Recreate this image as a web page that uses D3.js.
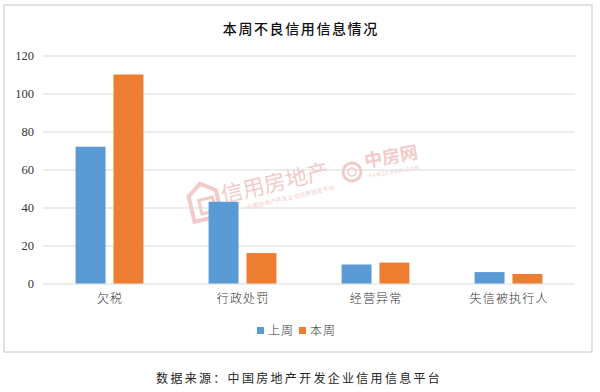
<!DOCTYPE html>
<html><head><meta charset="utf-8">
<script src="https://cdn.jsdelivr.net/npm/d3@7/dist/d3.min.js"></script>
<style>
html,body{margin:0;padding:0;background:#fff;}
svg{display:block;}
</style></head>
<body>
<svg id="chart" width="600" height="392"></svg>
<script>
const title = "本周不良信用信息情况";
const categories = ["欠税", "行政处罚", "经营异常", "失信被执行人"];
const seriesNames = ["上周", "本周"];
const lastWeek = [72, 43, 10, 6];
const thisWeek = [110, 16, 11, 5];
const yTicks = [0, 20, 40, 60, 80, 100, 120];
const source = "数据来源：中国房地产开发企业信用信息平台";
const colors = ["#5b9bd5", "#ed7d31"];

const svg = d3.select("#chart");
const cjk = "'Noto Sans CJK SC', 'Noto Sans', sans-serif";

// frame
svg.append("rect").attr("x", 4).attr("y", 5).attr("width", 588).attr("height", 347)
  .attr("fill", "#fff").attr("stroke", "#d9d9d9").attr("stroke-width", 1.5);

// title
svg.append("text").attr("x", 300).attr("y", 34).attr("text-anchor", "middle")
  .attr("font-family", cjk).attr("font-size", 14).attr("font-weight", 500)
  .attr("letter-spacing", 1.6).attr("dx", 0.8).attr("fill", "#111").text(title);

const x0 = d3.scaleBand().domain(categories).range([43, 575]).paddingInner(0.49).paddingOuter(0.245);
const x1 = d3.scaleBand().domain(seriesNames).range([0, x0.bandwidth()]).paddingInner(0.21);
const y = d3.scaleLinear().domain([0, 120]).range([283.5, 55.5]);

// watermark
const wm = svg.append("g").attr("opacity", 0.3);
const g1 = wm.append("g").attr("transform", "translate(205,205) rotate(-13)");
g1.append("path").attr("d", "M-14,-12 L0,-22 L14,-12 L14,14 L-14,14 Z").attr("fill", "none")
  .attr("stroke", "#d9534f").attr("stroke-width", 4);
g1.append("rect").attr("x", -5).attr("y", -6).attr("width", 14).attr("height", 14).attr("fill", "none")
  .attr("stroke", "#d9534f").attr("stroke-width", 3);
g1.append("text").attr("x", 18).attr("y", 2).attr("font-family", cjk).attr("font-size", 22)
  .attr("fill", "#d9534f").text("信用房地产");
g1.append("text").attr("x", 40).attr("y", 14).attr("font-family", cjk).attr("font-size", 6)
  .attr("fill", "#d9534f").text("中国房地产开发企业信用信息平台");
const g2 = wm.append("g").attr("transform", "translate(352,172) rotate(-10)");
g2.append("circle").attr("r", 9).attr("fill", "none").attr("stroke", "#d9534f").attr("stroke-width", 3);
g2.append("circle").attr("r", 4).attr("fill", "none").attr("stroke", "#d9534f").attr("stroke-width", 1.5);
g2.append("text").attr("x", 14).attr("y", -2).attr("font-family", cjk).attr("font-size", 18)
  .attr("font-weight", 700).attr("fill", "#d9534f").text("中房网");
g2.append("text").attr("x", 16).attr("y", 9).attr("font-family", "'DejaVu Sans', sans-serif")
  .attr("font-size", 5.5).attr("fill", "#d9534f").attr("letter-spacing", 0.5).text("FANGCHAN.COM");

// grid
const yAxis = d3.axisLeft(y).tickValues(yTicks).tickSize(-(575 - 43)).tickPadding(9);
const ga = svg.append("g").attr("transform", "translate(43,0)").call(yAxis);
ga.select(".domain").remove();
ga.selectAll(".tick line").attr("stroke", "#d9d9d9").attr("stroke-width", 1);
ga.selectAll(".tick text").attr("font-family", "'Liberation Serif', serif").attr("font-size", 12.5)
  .attr("fill", "#333");

// bars
const data = categories.map((c, i) => ({ c, vals: [lastWeek[i], thisWeek[i]] }));
const groups = svg.append("g").selectAll("g").data(data).join("g")
  .attr("transform", d => `translate(${x0(d.c)},0)`);
groups.selectAll("rect").data(d => d.vals.map((v, j) => ({ s: seriesNames[j], v, j })))
  .join("rect")
  .attr("x", d => x1(d.s)).attr("width", x1.bandwidth())
  .attr("y", d => y(d.v)).attr("height", d => y(0) - y(d.v))
  .attr("fill", d => colors[d.j]);

// category labels
const xAxis = d3.axisBottom(x0).tickSize(0).tickPadding(11);
const gx = svg.append("g").attr("transform", "translate(0,283.5)").call(xAxis);
gx.select(".domain").remove();
gx.selectAll(".tick text").attr("font-family", cjk).attr("font-size", 12).attr("fill", "#333")
  .attr("font-weight", 300).attr("letter-spacing", 1.2).attr("dx", 0.6);

// legend
const legend = svg.append("g");
const legX = [257, 299];
seriesNames.forEach((s, i) => {
  legend.append("rect").attr("x", legX[i]).attr("y", 327).attr("width", 7).attr("height", 7).attr("fill", colors[i]);
  legend.append("text").attr("x", legX[i] + 11).attr("y", 334.5).attr("font-family", cjk)
    .attr("font-size", 12).attr("font-weight", 300).attr("letter-spacing", 1).attr("fill", "#333").text(s);
});

// source
svg.append("text").attr("x", 298).attr("y", 383).attr("text-anchor", "middle")
  .attr("font-family", cjk).attr("font-size", 12).attr("letter-spacing", 2.3).attr("dx", 1.1)
  .attr("fill", "#222").text(source);
</script>
</body></html>
